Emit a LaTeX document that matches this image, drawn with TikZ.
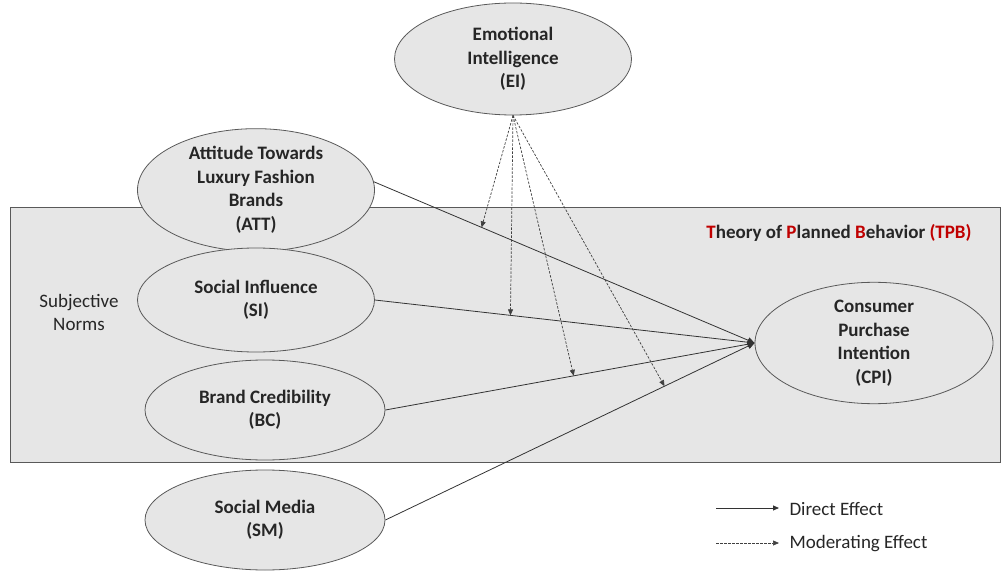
\documentclass[tikz,border=0pt]{standalone}
\usepackage{fontspec}
\setmainfont{Carlito}
\usetikzlibrary{shapes.geometric,arrows.meta}
\definecolor{boxfill}{HTML}{E6E6E6}
\definecolor{edge}{HTML}{595959}
\definecolor{txt}{HTML}{262626}
\definecolor{tpbred}{HTML}{C00000}
\tikzset{
  var/.style={ellipse, draw=edge, fill=boxfill, line width=0.8pt, inner sep=0pt, align=center,
    font=\fontsize{19}{23.5}\selectfont\bfseries, text=txt},
  direct/.style={draw=black!80, line width=0.8pt, -{Triangle[length=7pt,width=6pt]}},
  moder/.style={draw=black!75, line width=0.7pt, dash pattern=on 2.5pt off 1.5pt, -{Triangle[length=6pt,width=5pt]}},
  lbl/.style={font=\fontsize{19}{23}\selectfont, text=txt, align=center}
}
\begin{document}
\begin{tikzpicture}[x=1pt,y=-1pt]
\useasboundingbox (0,0) rectangle (1001,572);
\node[draw=edge, fill=boxfill, line width=0.8pt, minimum width=990pt, minimum height=255pt, inner sep=0pt, anchor=north west] (tpbbox) at (10,207) {};
\node[lbl, font=\fontsize{19}{23}\selectfont\bfseries] (tpb) at (839,233) {\textcolor{tpbred}{T}heory of \textcolor{tpbred}{P}lanned \textcolor{tpbred}{B}ehavior \textcolor{tpbred}{(TPB)}};
\node[lbl] (sn) at (79,312) {Subjective\\Norms};

\node[var, minimum width=237pt, minimum height=112pt] (EI) at (513,59) {Emotional\\Intelligence\\(EI)};
\node[var, minimum width=237pt, minimum height=100pt] (ATT) at (256,190) {Attitude Towards\\Luxury Fashion\\Brands\\(ATT)};
\node[var, minimum width=237pt, minimum height=104pt] (SI) at (256,300) {Social Influence\\(SI)};
\node[var, minimum width=240pt, minimum height=100pt] (BC) at (265,410) {Brand Credibility\\(BC)};
\node[var, minimum width=240pt, minimum height=100pt] (SM) at (265,520) {Social Media\\(SM)};
\node[var, minimum width=238pt, minimum height=110pt] (CPI) at (874,343) {Consumer\\Purchase\\Intention\\(CPI)};

\draw[direct] (ATT.4) -- coordinate[pos=0.283] (m1) (CPI.west);
\draw[direct] (SI.east) -- coordinate[pos=0.357] (m2) (CPI.west);
\draw[direct] (BC.east) -- coordinate[pos=0.51] (m3) (CPI.west);
\draw[direct] (SM.east) -- coordinate[pos=0.756] (m4) (CPI.west);

\draw[moder] (EI.south) -- (m1);
\draw[moder] (EI.south) -- (m2);
\draw[moder] (EI.south) -- (m3);
\draw[moder] (EI.south) -- (m4);

\coordinate (l1a) at (716,508);
\coordinate (l1b) at (779,508);
\coordinate (l2a) at (716,543);
\coordinate (l2b) at (779,543);
\draw[direct, -{Triangle[length=6pt,width=5pt]}] (l1a) -- (l1b);
\draw[moder] (l2a) -- (l2b);
\node[lbl, anchor=west] (ld) at (786,509) {Direct Effect};
\node[lbl, anchor=west] (lm) at (786,544) {Moderating Effect};
\end{tikzpicture}
\end{document}
